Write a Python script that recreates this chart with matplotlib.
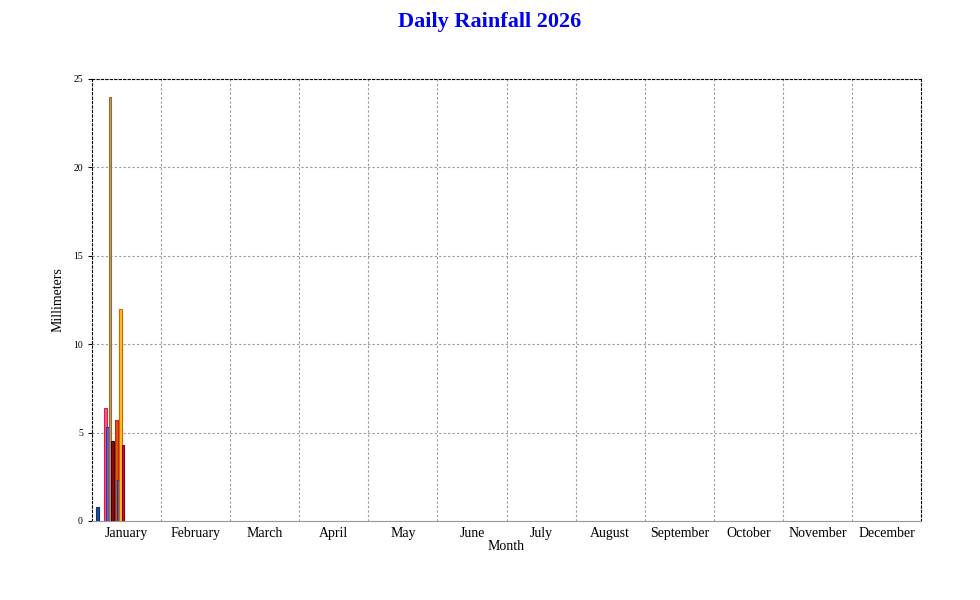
import numpy as np
import matplotlib.pyplot as plt

plt.rcParams['font.family'] = ['Liberation Serif', 'DejaVu Serif']

months = ['January', 'February', 'March', 'April', 'May', 'June', 'July',
          'August', 'September', 'October', 'November', 'December']

# day offsets within January (bar centres) and rainfall in mm
days = [2.5, 6.0, 7.0, 8.1, 9.0, 10.8, 11.7, 12.7, 13.9]
rain = [0.8, 6.4, 5.3, 24.0, 4.5, 5.7, 2.3, 12.0, 4.3]
faces = ['#1f4e9a', '#f06080', '#6a5acd', '#c8a060', '#7a1010', '#e05020', '#3070c0', '#ffc020', '#d01010']
edges = ['#103070', '#d02050', '#4030a0', '#907030', '#400000', '#b03000', '#104080', '#e06000', '#900000']

fig = plt.figure(figsize=(9.8, 6.0), dpi=100)
ax = fig.add_axes([92/980, 1 - 521/600, (921-92)/980, (521-79)/600])

ax.bar(np.array(days) / 31, rain, width=1.3 / 31, color=faces, edgecolor=edges, linewidth=0.8, zorder=3)

ax.set_xlim(0, 12)
ax.set_ylim(0, 25)
ax.set_yticks([0, 5, 10, 15, 20, 25])
ax.set_xticks(np.arange(12) + 0.5)
ax.set_xticklabels(months, fontsize=10)
ax.set_xticks(np.arange(1, 12), minor=True)
ax.tick_params(axis='x', which='both', length=0, pad=4)
ax.tick_params(axis='y', labelsize=7, length=3)
ax.grid(True, which='minor', axis='x', color='#999999', linestyle=(0, (2, 2)), linewidth=0.8)
ax.grid(True, which='major', axis='y', color='#999999', linestyle=(0, (2, 2)), linewidth=0.8)
for s in ['top', 'right', 'left']:
    ax.spines[s].set_linestyle((0, (2, 2)))
    ax.spines[s].set_linewidth(0.8)
ax.spines['bottom'].set_color('#999999')

ax.set_xlabel('Month', fontsize=10, labelpad=0)
ax.set_ylabel('Millimeters', fontsize=10, labelpad=6)
fig.suptitle('Daily Rainfall 2026', y=0.98, fontsize=16, fontweight='bold', color='#0000ee')

fig.savefig('out.png', dpi=100)
